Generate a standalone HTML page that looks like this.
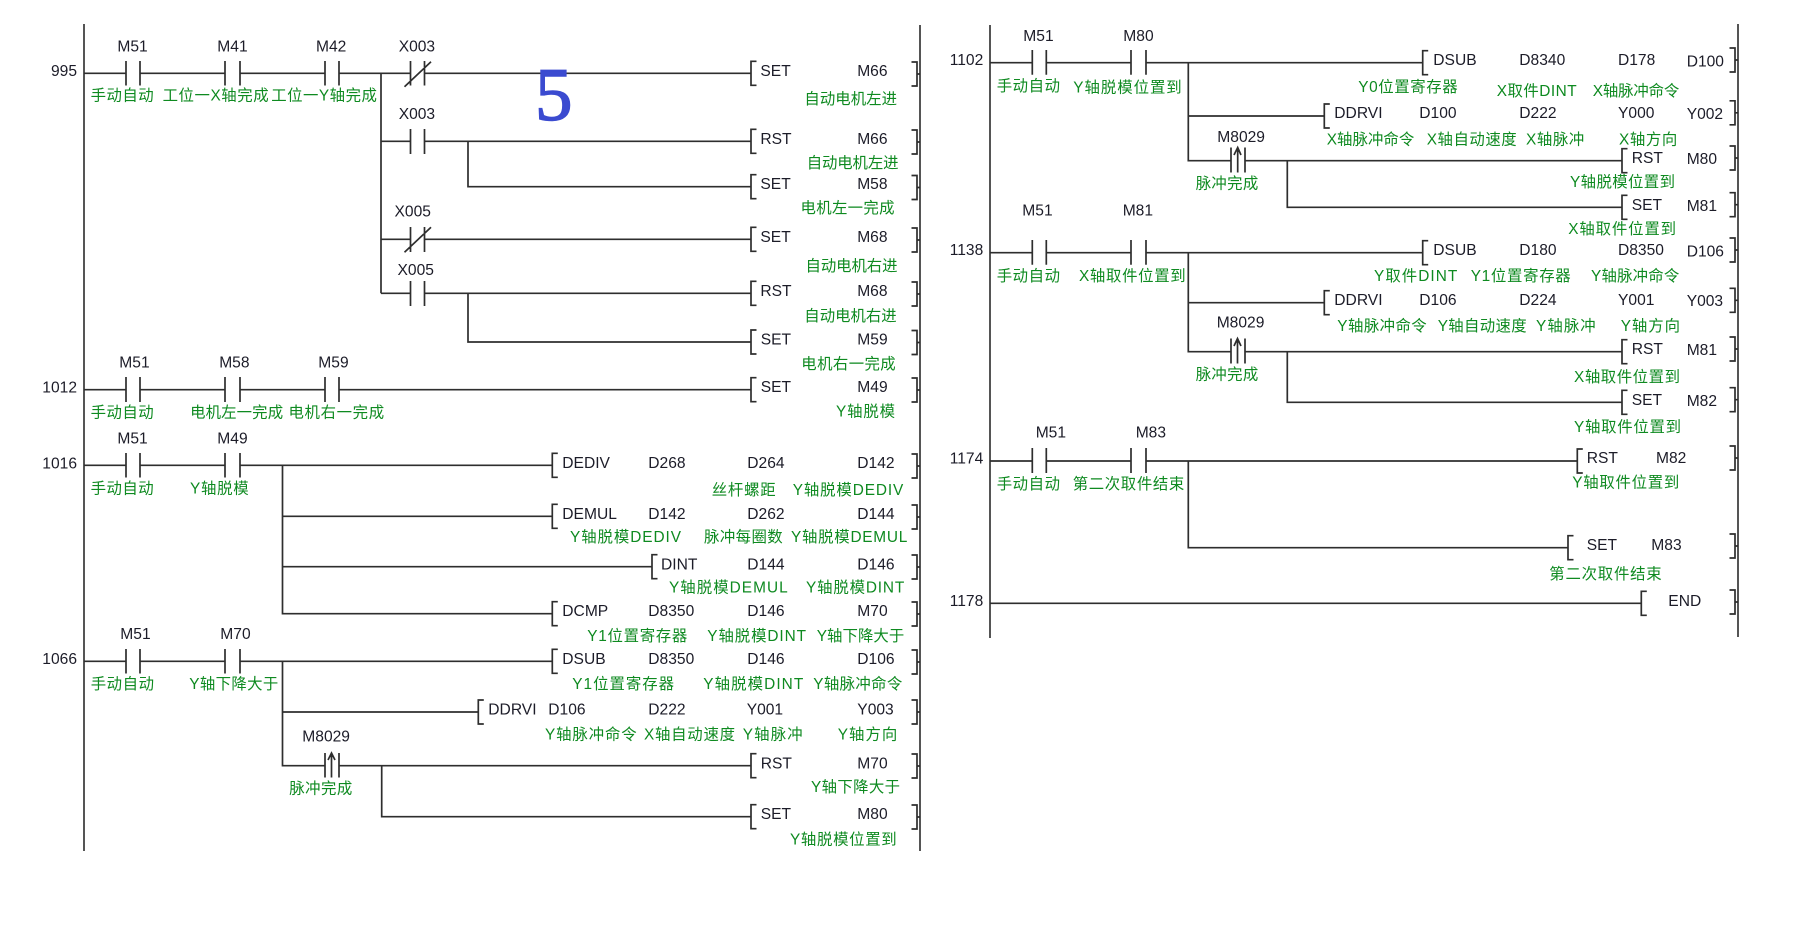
<!DOCTYPE html>
<html lang="zh"><head><meta charset="utf-8"><title>Ladder diagram</title>
<style>
html,body{margin:0;padding:0;background:#fff;width:1798px;height:927px;overflow:hidden}
svg{display:block}
text{font-family:"Liberation Sans","Noto Sans CJK SC",sans-serif;font-size:15.6px}
.t{fill:#1c1c28}
.g{fill:#0e8a20;font-size:15.4px}
.w{fill:none;stroke:#2e2e2e;stroke-width:1.7}
.r{fill:none;stroke:#555;stroke-width:2}
</style></head><body>
<svg xmlns="http://www.w3.org/2000/svg" width="1798" height="927" viewBox="0 0 1798 927">
<defs>
<path id="l" class="w" d="M5.5 -12H0V12H5.5"/>
<path id="b" class="w" d="M-5.5 -12H0V12H-5.5M0 0H3"/>
</defs>
<rect width="1798" height="927" fill="#fff"/>
<path class="r" d="M84 24V851M920 25V851M990 25V638M1738 24V637"/>
<path class="w" d="M84 73.3H126M140 73.3H225M240 73.3H325M339 73.3H410M425 73.3H751
M126 61V85.5M140 61V85.5M225 61V85.5M240 61V85.5M325 61V85.5M339 61V85.5M410.5 61V85.5M424.5 61V85.5M404.5 86.7L431 61.7
M381 73.3V293.3M381 141.3H410.5M424.5 141.3H751M410.5 129V154M424.5 129V154M468 141.3V186.7H751
M381 239.3H410.5M424.5 239.3H751M410.5 227V252M424.5 227V252M404.5 252.3L431 227.3
M381 293.3H410.5M424.5 293.3H751M410.5 281V306M424.5 281V306M468 293.3V342H751
M84 389.7H126M140 389.7H225M240 389.7H325M339 389.7H751M126 377V402M140 377V402M225 377V402M240 377V402M325 377V402M339 377V402
M84 465.3H126M140 465.3H225M240 465.3H552M126 453V477.5M140 453V477.5M225 453V477.5M240 453V477.5
M282.5 465.3V613.7H552M282.5 516.3H552M282.5 566.7H652
M84 661.3H126M140 661.3H225M240 661.3H552M126 649V673.5M140 649V673.5M225 649V673.5M240 649V673.5
M282.5 661.3V765.7H325M282.5 712H478M339 765.7H751M325 753V777.5M339 753V777.5M331.5 753V777.5M328 760L331.5 753L335 760
M381.7 765.7V816.7H751
M990 62.7H1032.3M1046.3 62.7H1131M1146 62.7H1422.7M1032.3 50V74.7M1046.3 50V74.7M1131 50V74.7M1146 50V74.7
M1188.3 62.7V160.7H1231M1188.3 116H1324.3M1245 160.7H1622M1231 147.5V172.5M1245 147.5V172.5M1237.7 147.5V172.5M1234 155L1237.7 147.5L1241 155
M1287.3 160.7V207.3H1622
M990 252.7H1032.3M1046.3 252.7H1131M1146 252.7H1422.7M1032.3 240V264.7M1046.3 240V264.7M1131 240V264.7M1146 240V264.7
M1188.3 252.7V351.7H1231M1188.3 302.7H1324.3M1245 351.7H1622M1231 338.5V363.5M1245 338.5V363.5M1237.5 338.5V363.5M1234 346L1237.5 338.5L1241 346
M1287.3 351.7V402.3H1622
M990 461H1032.3M1046.3 461H1131M1146 461H1577.3M1032.3 448V473M1046.3 448V473M1131 448V473M1146 448V473
M1188.3 461V547.7H1568
M990 603.3H1641.3"/>
<g>
<use href="#l" x="751" y="73.3"/><use href="#l" x="751" y="141.3"/><use href="#l" x="751" y="186.7"/><use href="#l" x="751" y="239.3"/><use href="#l" x="751" y="293.3"/><use href="#l" x="751" y="342"/><use href="#l" x="751" y="389.7"/>
<use href="#l" x="552.3" y="465.3"/><use href="#l" x="552.3" y="516.3"/><use href="#l" x="652" y="566.7"/><use href="#l" x="552.3" y="613.7"/><use href="#l" x="552.3" y="661.3"/><use href="#l" x="478.3" y="712"/><use href="#l" x="751" y="765.7"/><use href="#l" x="751" y="816.7"/>
<use href="#l" x="1422.7" y="62.7"/><use href="#l" x="1324.3" y="116"/><use href="#l" x="1622" y="160.7"/><use href="#l" x="1622" y="207.3"/>
<use href="#l" x="1422.7" y="252.7"/><use href="#l" x="1324.3" y="302.7"/><use href="#l" x="1622" y="351.7"/><use href="#l" x="1622" y="402.3"/>
<use href="#l" x="1577.3" y="461"/><use href="#l" x="1568" y="547.7"/><use href="#l" x="1641.3" y="603.3"/>
<use href="#b" x="917" y="74"/><use href="#b" x="917" y="142"/><use href="#b" x="917" y="187.5"/><use href="#b" x="917" y="240"/><use href="#b" x="917" y="294"/><use href="#b" x="917" y="342.5"/><use href="#b" x="917" y="390"/><use href="#b" x="917" y="466"/><use href="#b" x="917" y="517"/><use href="#b" x="917" y="567"/><use href="#b" x="917" y="614"/><use href="#b" x="917" y="662"/><use href="#b" x="917" y="712"/><use href="#b" x="917" y="766"/><use href="#b" x="917" y="817"/>
<use href="#b" x="1735" y="60"/><use href="#b" x="1735" y="112.8"/><use href="#b" x="1735" y="158"/><use href="#b" x="1735" y="204.7"/><use href="#b" x="1735" y="250"/><use href="#b" x="1735" y="300.3"/><use href="#b" x="1735" y="349"/><use href="#b" x="1735" y="399.7"/><use href="#b" x="1735" y="458"/><use href="#b" x="1735" y="546"/><use href="#b" x="1735" y="602"/>
</g>
<text x="535" y="120" style="font-family:'Liberation Serif',serif;font-size:75px" fill="#3b4bd0" stroke="#3b4bd0" stroke-width="1.4">5</text>
<g class="t" text-anchor="end">
<text x="77" y="76">995</text><text x="77" y="392.7">1012</text><text x="77" y="468.3">1016</text><text x="77" y="664">1066</text>
<text x="983.3" y="65.2">1102</text><text x="983.3" y="255.2">1138</text><text x="983.3" y="463.4">1174</text><text x="983.3" y="606">1178</text>
</g>
<g class="t">
<text x="117.4" y="51.7">M51</text><text x="217.3" y="51.7">M41</text><text x="316" y="51.7">M42</text><text x="398.7" y="51.7">X003</text>
<text x="398.7" y="119">X003</text><text x="394.5" y="216.3">X005</text><text x="397.5" y="275">X005</text>
<text x="119.3" y="367.4">M51</text><text x="219.2" y="367.4">M58</text><text x="318.3" y="367.4">M59</text>
<text x="117.4" y="443.5">M51</text><text x="217.3" y="443.5">M49</text>
<text x="120.3" y="639">M51</text><text x="220.3" y="639">M70</text><text x="302.3" y="741.5">M8029</text>
<text x="760.4" y="76.2">SET</text><text x="857.2" y="76.2">M66</text>
<text x="760.4" y="144.2">RST</text><text x="857.2" y="144.2">M66</text>
<text x="760.4" y="189.2">SET</text><text x="857.2" y="189.2">M58</text>
<text x="760.4" y="242.2">SET</text><text x="857.2" y="242.2">M68</text>
<text x="760.4" y="296">RST</text><text x="857.2" y="296">M68</text>
<text x="760.7" y="344.3">SET</text><text x="857.3" y="344.3">M59</text>
<text x="760.7" y="392.2">SET</text><text x="857.3" y="392.2">M49</text>
<text x="562.3" y="468.2">DEDIV</text><text x="648.3" y="468.2">D268</text><text x="747.3" y="468.2">D264</text><text x="857.3" y="468.2">D142</text>
<text x="562.3" y="518.8">DEMUL</text><text x="648.3" y="518.8">D142</text><text x="747.3" y="518.8">D262</text><text x="857.3" y="518.8">D144</text>
<text x="661" y="569.5">DINT</text><text x="747.3" y="569.5">D144</text><text x="857.3" y="569.5">D146</text>
<text x="562.3" y="616.2">DCMP</text><text x="648.3" y="616.2">D8350</text><text x="747.3" y="616.2">D146</text><text x="857.3" y="616.2">M70</text>
<text x="562.3" y="664.2">DSUB</text><text x="648.3" y="664.2">D8350</text><text x="747.3" y="664.2">D146</text><text x="857.3" y="664.2">D106</text>
<text x="488.3" y="714.5">DDRVI</text><text x="548.3" y="714.5">D106</text><text x="648.3" y="714.5">D222</text><text x="746.7" y="714.5">Y001</text><text x="857.3" y="714.5">Y003</text>
<text x="760.7" y="768.5">RST</text><text x="857.3" y="768.5">M70</text>
<text x="760.7" y="819.2">SET</text><text x="857.3" y="819.2">M80</text>
<text x="1023.3" y="41">M51</text><text x="1123.3" y="41">M80</text>
<text x="1433.3" y="65.2">DSUB</text><text x="1519.3" y="65.2">D8340</text><text x="1618" y="65.2">D178</text><text x="1686.7" y="66.5">D100</text>
<text x="1334.3" y="118.2">DDRVI</text><text x="1419.3" y="118.2">D100</text><text x="1519.3" y="118.2">D222</text><text x="1618" y="118.2">Y000</text><text x="1686.7" y="119.2">Y002</text>
<text x="1217.3" y="142">M8029</text>
<text x="1631.7" y="163.2">RST</text><text x="1686.7" y="163.9">M80</text>
<text x="1631.7" y="210.2">SET</text><text x="1686.7" y="210.9">M81</text>
<text x="1022.3" y="215.4">M51</text><text x="1122.7" y="215.4">M81</text>
<text x="1433.3" y="255.2">DSUB</text><text x="1519.3" y="255.2">D180</text><text x="1618" y="255.2">D8350</text><text x="1686.7" y="256.5">D106</text>
<text x="1334.3" y="305.2">DDRVI</text><text x="1419.3" y="305.2">D106</text><text x="1519.3" y="305.2">D224</text><text x="1618" y="305.2">Y001</text><text x="1686.7" y="305.9">Y003</text>
<text x="1216.7" y="327.5">M8029</text>
<text x="1631.7" y="354.2">RST</text><text x="1686.7" y="354.9">M81</text>
<text x="1631.7" y="405.2">SET</text><text x="1686.7" y="405.9">M82</text>
<text x="1035.7" y="437.4">M51</text><text x="1135.7" y="437.4">M83</text>
<text x="1586.7" y="463.2">RST</text><text x="1656" y="463.2">M82</text>
<text x="1586.7" y="550">SET</text><text x="1651.3" y="550">M83</text>
<text x="1668.3" y="606">END</text>
</g>
<g class="g">
<text class="g" x="90.6" y="100.5" textLength="63">手动自动</text>
<text class="g" x="162.6" y="100.5" textLength="106">工位一X轴完成</text>
<text class="g" x="271.2" y="100.5" textLength="105.7">工位一Y轴完成</text>
<text class="g" x="804.4" y="104" textLength="92.6">自动电机左进</text>
<text class="g" x="806.7" y="168" textLength="91.8">自动电机左进</text>
<text class="g" x="800.5" y="213" textLength="94">电机左一完成</text>
<text class="g" x="805.5" y="271" textLength="92">自动电机右进</text>
<text class="g" x="804.3" y="321" textLength="92.4">自动电机右进</text>
<text class="g" x="801.3" y="369" textLength="94.4">电机右一完成</text>
<text class="g" x="836" y="416.5" textLength="59">Y轴脱模</text>
<text class="g" x="90.6" y="417.5" textLength="63">手动自动</text>
<text class="g" x="190.1" y="417.5" textLength="93">电机左一完成</text>
<text class="g" x="288.5" y="417.5" textLength="95.6">电机右一完成</text>
<text class="g" x="90.6" y="493.5" textLength="63">手动自动</text>
<text class="g" x="190" y="493.5" textLength="58.7">Y轴脱模</text>
<text class="g" x="711.7" y="495" textLength="64">丝杆螺距</text>
<text class="g" x="792.7" y="495" textLength="110.6">Y轴脱模DEDIV</text>
<text class="g" x="570" y="542" textLength="111">Y轴脱模DEDIV</text>
<text class="g" x="704" y="542" textLength="78.7">脉冲每圈数</text>
<text class="g" x="791" y="542" textLength="116.3">Y轴脱模DEMUL</text>
<text class="g" x="669" y="592.5" textLength="118.7">Y轴脱模DEMUL</text>
<text class="g" x="806" y="592.5" textLength="98.3">Y轴脱模DINT</text>
<text class="g" x="587.3" y="641" textLength="100">Y1位置寄存器</text>
<text class="g" x="707.3" y="641" textLength="98.7">Y轴脱模DINT</text>
<text class="g" x="816.7" y="641" textLength="87.6">Y轴下降大于</text>
<text class="g" x="90.7" y="689" textLength="63.3">手动自动</text>
<text class="g" x="189.3" y="689" textLength="89">Y轴下降大于</text>
<text class="g" x="572.3" y="689" textLength="101.7">Y1位置寄存器</text>
<text class="g" x="703.3" y="689" textLength="100">Y轴脱模DINT</text>
<text class="g" x="813.3" y="689" textLength="89">Y轴脉冲命令</text>
<text class="g" x="545" y="739.5" textLength="91.7">Y轴脉冲命令</text>
<text class="g" x="644" y="739.5" textLength="91">X轴自动速度</text>
<text class="g" x="742.7" y="739.5" textLength="60">Y轴脉冲</text>
<text class="g" x="837.7" y="739.5" textLength="59.6">Y轴方向</text>
<text class="g" x="811" y="792" textLength="89">Y轴下降大于</text>
<text class="g" x="289.3" y="793.5" textLength="63">脉冲完成</text>
<text class="g" x="790" y="844.5" textLength="106.7">Y轴脱模位置到</text>
<text class="g" x="996.7" y="91" textLength="63.3">手动自动</text>
<text class="g" x="1073.3" y="92.5" textLength="108.4">Y轴脱模位置到</text>
<text class="g" x="1358.3" y="92" textLength="99.4">Y0位置寄存器</text>
<text class="g" x="1496.7" y="96" textLength="80">X取件DINT</text>
<text class="g" x="1592.7" y="96" textLength="86.6">X轴脉冲命令</text>
<text class="g" x="1326.7" y="144.5" textLength="87.6">X轴脉冲命令</text>
<text class="g" x="1426.7" y="144.5" textLength="90">X轴自动速度</text>
<text class="g" x="1526" y="144.5" textLength="58.3">X轴脉冲</text>
<text class="g" x="1619" y="144.5" textLength="58.3">X轴方向</text>
<text class="g" x="1195.7" y="188.5" textLength="62.6">脉冲完成</text>
<text class="g" x="1570" y="187" textLength="105">Y轴脱模位置到</text>
<text class="g" x="1568.3" y="234" textLength="107.7">X轴取件位置到</text>
<text class="g" x="996.7" y="281" textLength="63.3">手动自动</text>
<text class="g" x="1079" y="281" textLength="106.7">X轴取件位置到</text>
<text class="g" x="1374" y="281" textLength="83.3">Y取件DINT</text>
<text class="g" x="1470.7" y="281" textLength="100">Y1位置寄存器</text>
<text class="g" x="1591" y="281" textLength="88.3">Y轴脉冲命令</text>
<text class="g" x="1337.3" y="331" textLength="89.4">Y轴脉冲命令</text>
<text class="g" x="1437.7" y="331" textLength="89">Y轴自动速度</text>
<text class="g" x="1536" y="331" textLength="59.7">Y轴脉冲</text>
<text class="g" x="1620.7" y="331" textLength="59.3">Y轴方向</text>
<text class="g" x="1195.7" y="379.5" textLength="62.6">脉冲完成</text>
<text class="g" x="1574" y="382" textLength="106">X轴取件位置到</text>
<text class="g" x="1574" y="432" textLength="107">Y轴取件位置到</text>
<text class="g" x="996.7" y="489" textLength="63.3">手动自动</text>
<text class="g" x="1072.7" y="489" textLength="111.6">第二次取件结束</text>
<text class="g" x="1572.3" y="487.5" textLength="107">Y轴取件位置到</text>
<text class="g" x="1549.3" y="579" textLength="112.4">第二次取件结束</text>
</g>
</svg>
</body></html>
